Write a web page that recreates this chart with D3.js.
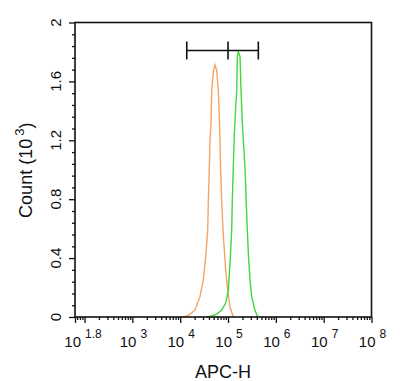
<!DOCTYPE html>
<html>
<head>
<meta charset="utf-8">
<script src="https://cdn.jsdelivr.net/npm/d3@7"></script>
<style>
body { margin: 0; background: #fff; }
text { font-family: "Liberation Sans", Arial, sans-serif; fill: #111; }
.axis path { display: none; }
.axis line { stroke: #111; stroke-width: 1.3; }
</style>
</head>
<body>
<div id="chart"></div>
<script>
// APC-H intensity (x) and count in thousands (y)
const orangeX = [11000, 12600, 16000, 20400, 25900, 30400, 34100, 37600, 38700, 40600, 42000, 44100, 45600, 49200, 53500,
                 57900, 62700, 65800, 67900, 69700, 73800, 79600, 83600, 89300, 98400, 109900, 128800];
const orangeY = [0, 0.003, 0.018, 0.048, 0.138, 0.251, 0.41, 0.59, 0.783, 1.012, 1.202, 1.317, 1.542, 1.666, 1.711,
                 1.677, 1.542, 1.36, 1.202, 1.012, 0.783, 0.557, 0.455, 0.319, 0.183, 0.07, 0];

const greenX = [36300, 45600, 57900, 73800, 89300, 101400, 109900, 119300, 122700, 128800, 135200, 144900, 152100, 156400, 164100,
                178100, 186800, 199000, 208700, 226500, 240000, 253000, 268000, 288000, 312600, 354600, 398000, 429300];
const greenY = [0, 0.007, 0.02, 0.048, 0.095, 0.183, 0.367, 0.59, 0.783, 1.012, 1.236, 1.428, 1.542, 1.768, 1.802,
                1.768, 1.542, 1.317, 1.202, 1.012, 0.783, 0.591, 0.41, 0.251, 0.138, 0.061, 0.014, 0];

// gate marker: left end, middle, right end
const gateX = [13700, 100000, 430000];
const gateY = 1.81;

const xMajor = [Math.pow(10, 1.8), 1e2, 1e3, 1e4, 1e5, 1e6, 1e7, 1e8];
const xLabelVals = [Math.pow(10, 1.8), 1e3, 1e4, 1e5, 1e6, 1e7, 1e8];
const xLabelExp = ['1.8', '3', '4', '5', '6', '7', '8'];
const yMajor = [0, 0.4, 0.8, 1.2, 1.6, 2];
const yLabels = ['0', '0.4', '0.8', '1.2', '1.6', '2'];

let margin = {top: 22.5, left: 75},
    chartWidth = 296.5,
    chartHeight = 294.5;

let x = d3.scaleLog().domain([Math.pow(10, 1.8), 1e8]).range([0, chartWidth]),
    y = d3.scaleLinear().domain([0, 2]).range([chartHeight, 0]);

let svg = d3.select('#chart').append('svg')
    .attr('width', 400)
    .attr('height', 381)
    .append('g')
    .attr('transform', 'translate(' + margin.left + ',' + margin.top + ')');

// minor ticks
let xMinor = [];
for (let e = 1; e < 8; e++) {
    for (let m = 2; m <= 9; m++) {
        let v = m * Math.pow(10, e);
        if (v > Math.pow(10, 1.8) && v < 1e8) xMinor.push(v);
    }
}
let yMinor = d3.range(0, 2.001, 0.08).filter(function (d) {
    return Math.abs(d / 0.4 - Math.round(d / 0.4)) > 0.01;
});

svg.append('g').attr('class', 'axis')
    .attr('transform', 'translate(0,' + chartHeight + ')')
    .call(d3.axisBottom(x).tickValues(xMinor).tickSize(3).tickFormat(''));
svg.append('g').attr('class', 'axis')
    .attr('transform', 'translate(0,' + chartHeight + ')')
    .call(d3.axisBottom(x).tickValues(xMajor).tickSize(6).tickFormat(''));
svg.append('g').attr('class', 'axis')
    .call(d3.axisLeft(y).tickValues(yMinor).tickSize(3).tickFormat(''));
svg.append('g').attr('class', 'axis')
    .call(d3.axisLeft(y).tickValues(yMajor).tickSize(6).tickFormat(''));

// x tick labels as 10^n
let xl = svg.append('g').selectAll('text').data(xLabelVals).enter()
    .append('text')
    .attr('x', function (d, i) { return x(d) + (i === 0 ? 8 : 1); })
    .attr('y', chartHeight + 30)
    .attr('text-anchor', 'middle')
    .style('font-size', '15px');
xl.append('tspan').text('10');
xl.append('tspan')
    .attr('dx', 4)
    .attr('dy', -9)
    .style('font-size', '12px')
    .text(function (d, i) { return xLabelExp[i]; });

// y tick labels, rotated
svg.append('g').selectAll('text').data(yMajor).enter()
    .append('text')
    .attr('transform', function (d) { return 'translate(-14,' + y(d) + ') rotate(-90)'; })
    .attr('text-anchor', 'middle')
    .style('font-size', '15px')
    .text(function (d, i) { return yLabels[i]; });

// axis titles
svg.append('text')
    .attr('x', 148)
    .attr('y', chartHeight + 60.5)
    .attr('text-anchor', 'middle')
    .style('font-size', '18px')
    .text('APC-H');

let yt = svg.append('text')
    .attr('transform', 'translate(-43,' + (y(1) + 0.5) + ') rotate(-90)')
    .attr('text-anchor', 'middle')
    .style('font-size', '18px');
yt.append('tspan').text('Count  (10');
yt.append('tspan').attr('dx', 3).attr('dy', -8).style('font-size', '13px').text('3');
yt.append('tspan').attr('dy', 8).text(')');

// histograms
let line = d3.line()
    .x(function (d) { return x(d[0]); })
    .y(function (d) { return y(d[1]); });

svg.append('path')
    .datum(d3.zip(orangeX, orangeY))
    .attr('d', line)
    .attr('fill', 'none')
    .attr('stroke', '#f2a466')
    .attr('stroke-width', 1.4);

svg.append('path')
    .datum(d3.zip(greenX, greenY))
    .attr('d', line)
    .attr('fill', 'none')
    .attr('stroke', '#3fd83f')
    .attr('stroke-width', 1.4);

// gate marker
let gate = svg.append('g').attr('stroke', '#111').attr('stroke-width', 1.6);
gate.append('line')
    .attr('x1', x(gateX[0])).attr('x2', x(gateX[2]))
    .attr('y1', y(gateY)).attr('y2', y(gateY));
gate.selectAll('.cap').data(gateX).enter()
    .append('line')
    .attr('class', 'cap')
    .attr('x1', function (d) { return x(d); })
    .attr('x2', function (d) { return x(d); })
    .attr('y1', y(gateY) - 9)
    .attr('y2', y(gateY) + 9);

// frame
svg.append('rect')
    .attr('width', chartWidth)
    .attr('height', chartHeight)
    .attr('fill', 'none')
    .attr('stroke', '#111')
    .attr('stroke-width', 1.6);
</script>
</body>
</html>
